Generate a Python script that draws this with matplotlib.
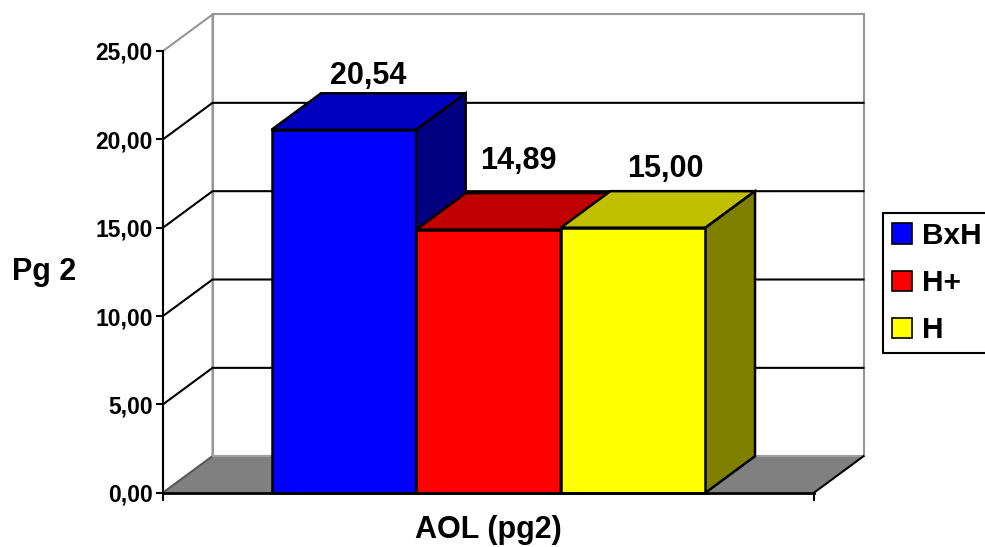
import matplotlib
matplotlib.use("Agg")
import matplotlib.pyplot as plt
from matplotlib.patches import Polygon, Patch
from matplotlib.ticker import FixedLocator, FuncFormatter

# ---- data -------------------------------------------------------------
category = "AOL (pg2)"
series = ["BxH", "H+", "H"]
values = [20.54, 14.89, 15.00]
yticks = [0, 5, 10, 15, 20, 25]
y_title = "Pg 2"

# ---- styles -----------------------------------------------------------
front_colors = ["#0000FF", "#FF0000", "#FFFF00"]
top_colors = ["#0000C0", "#C00000", "#C0C000"]
side_colors = ["#000080", "#800000", "#808000"]
label_nudge_px = [(0, 28), (5, 42), (7, 32)]

plt.rcParams["font.family"] = ["Liberation Sans", "DejaVu Sans"]
plt.rcParams["font.weight"] = "bold"

W, H = 985, 547
fig = plt.figure(figsize=(W / 100, H / 100), dpi=100)
ax = fig.add_axes([163 / W, 1 - 492.7 / H, 651 / W, 441.7 / H])

XMIN, XMAX = -0.75, 0.75
YMIN, YMAX = yticks[0], yticks[-1]
ax.set_xlim(XMIN, XMAX)
ax.set_ylim(YMIN, YMAX)

# depth of the 3-D box, in data units
DX = 0.1141
DY = 2.066

WALL_EDGE = "#969696"
LW = 1.5


def poly(pts, **kw):
    p = Polygon(pts, closed=True, clip_on=False, joinstyle="miter", **kw)
    ax.add_patch(p)
    return p


# walls and floor
poly([(XMIN + DX, YMIN + DY), (XMAX + DX, YMIN + DY),
      (XMAX + DX, YMAX + DY), (XMIN + DX, YMAX + DY)],
     facecolor="white", edgecolor=WALL_EDGE, lw=LW, zorder=1)
poly([(XMIN, YMIN), (XMIN + DX, YMIN + DY), (XMIN + DX, YMAX + DY), (XMIN, YMAX)],
     facecolor="white", edgecolor=WALL_EDGE, lw=LW, zorder=1)
poly([(XMIN, YMIN), (XMAX, YMIN), (XMAX + DX, YMIN + DY), (XMIN + DX, YMIN + DY)],
     facecolor="#808080", edgecolor="none", zorder=1.5)
ax.plot([XMIN, XMIN + DX], [YMIN, YMIN + DY], color="#5a5a5a", lw=LW,
        clip_on=False, zorder=1.6)
ax.plot([XMIN + DX, XMAX + DX], [YMIN + DY, YMIN + DY], color="#a0a0a0", lw=LW,
        clip_on=False, zorder=1.6)
ax.plot([XMAX, XMAX + DX], [YMIN, YMIN + DY], color="black", lw=LW,
        clip_on=False, zorder=1.6)

# gridlines on the side and back walls
for v in yticks[1:-1]:
    ax.plot([XMIN, XMIN + DX, XMAX + DX], [v, v + DY, v + DY],
            color="black", lw=LW, clip_on=False, zorder=2,
            solid_joinstyle="miter")

# 3-D bars
n = len(values)
bw = (XMAX - XMIN) / (n + 1.5)
x_left = [-(n * bw) / 2 + i * bw for i in range(n)]
for i, v in enumerate(values):
    x0, x1 = x_left[i], x_left[i] + bw
    z = 3 + i
    kw = dict(edgecolor="black", lw=1.8)
    poly([(x0, 0), (x1, 0), (x1, v), (x0, v)], facecolor=front_colors[i], zorder=z, **kw)
    poly([(x0, v), (x1, v), (x1 + DX, v + DY), (x0 + DX, v + DY)],
         facecolor=top_colors[i], zorder=z, **kw)
    poly([(x1, 0), (x1 + DX, DY), (x1 + DX, v + DY), (x1, v)],
         facecolor=side_colors[i], zorder=z, **kw)
    ax.annotate(f"{v:.2f}".replace(".", ","),
                xy=((x0 + x1) / 2 + DX / 2, v + DY / 2),
                xytext=label_nudge_px[i], textcoords="offset pixels",
                ha="center", va="baseline", fontsize=22, fontweight="bold",
                zorder=10, annotation_clip=False)

# axes, ticks and titles
for s in ("top", "right"):
    ax.spines[s].set_visible(False)
ax.spines["left"].set_linewidth(LW)
ax.spines["bottom"].set_linewidth(2)
ax.spines["left"].set_zorder(8)
ax.spines["bottom"].set_zorder(8)
ax.patch.set_visible(False)

ax.yaxis.set_major_locator(FixedLocator(yticks))
ax.yaxis.set_major_formatter(FuncFormatter(lambda v, p: f"{v:.2f}".replace(".", ",")))
ax.tick_params(axis="y", direction="out", length=5, width=LW, pad=2.5,
               labelsize=16.5)
ax.xaxis.set_major_locator(FixedLocator([XMIN, XMAX]))
ax.tick_params(axis="x", direction="out", length=6, width=LW, labelbottom=False)
for t in ax.get_yticklabels():
    t.set_fontweight("bold")

ax.set_xlabel(category, fontsize=22, fontweight="bold", labelpad=10)
ax.set_ylabel(y_title, fontsize=22, fontweight="bold", rotation=0,
              ha="center", va="center")
ax.yaxis.set_label_coords(-0.183, 0.5)

handles = [Patch(facecolor=c, edgecolor="black", lw=1.2) for c in front_colors]
leg = fig.legend(handles, series, loc="upper left",
                 bbox_to_anchor=(883 / W, 1 - 213 / H), bbox_transform=fig.transFigure,
                 borderaxespad=0, frameon=True, fancybox=False, shadow=False,
                 edgecolor="black", framealpha=1,
                 prop={"size": 21.5, "weight": "bold"},
                 handlelength=0.66, handleheight=0.66, handletextpad=0.33,
                 borderpad=0.3, labelspacing=0.64)
leg.get_frame().set_linewidth(LW)

fig.savefig("out.png", dpi=100)
